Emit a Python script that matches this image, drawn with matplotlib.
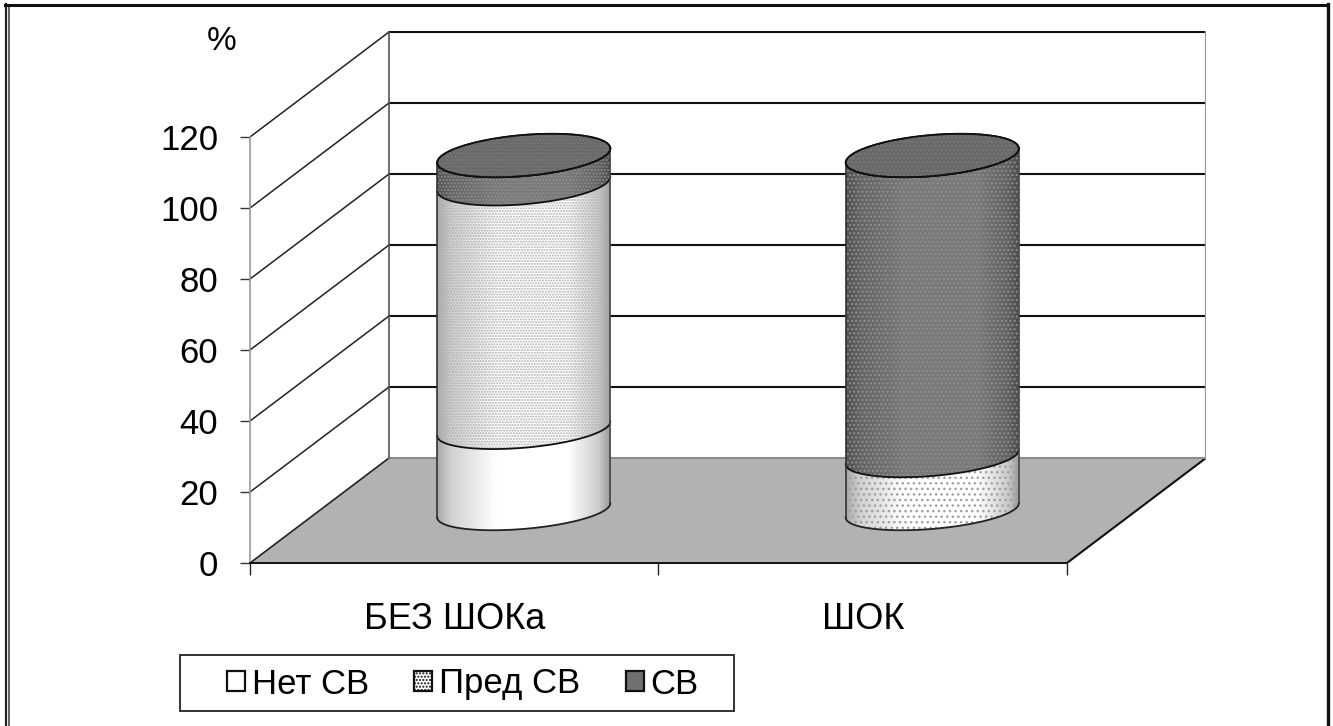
import numpy as np
import matplotlib
matplotlib.use("Agg")
import matplotlib.pyplot as plt
from matplotlib.lines import Line2D
from matplotlib.patches import Patch, PathPatch, Polygon, Rectangle
from matplotlib.path import Path

plt.rcParams["font.family"] = ["Liberation Sans", "DejaVu Sans"]

# data
categories = ["БЕЗ ШОКа", "ШОК"]
series_names = ["Нет СВ", "Пред СВ", "СВ"]
net_sv = [23, 0]
pred_sv = [69, 15]
sv = [8, 85]
y_ticks = [0, 20, 40, 60, 80, 100, 120]

# 3d look, in data units
DEPTH_X = 0.3403
DEPTH_Y = 29.58
RAD_X = 0.2118
TILT = 2.0

# look of each series: base gray, dot colour, hatch
styles = [
    (1.00, None, None),
    (1.00, "#b0b0b0", "......"),
    (0.48, "#8e8e8e", "....."),
]
# the dots are coarser on the second cylinder
styles2 = [
    (1.00, None, None),
    (1.00, "#a0a0a0", "..."),
    (0.48, "#8e8e8e", "...."),
]

# shading across the cylinder, left to right
shade_x = np.linspace(0, 1, 200)
shade = np.interp(shade_x, [0, 0.08, 0.35, 0.75, 0.93, 1], [0.66, 0.82, 1, 1, 0.8, 0.6])


def rad_y(v):
    return 5.1 + 0.006 * v


def front_arc(cx, cy, reverse=False):
    t = np.linspace(np.pi, 2 * np.pi, 80)
    if reverse:
        t = t[::-1]
    return np.column_stack([cx + RAD_X * np.cos(t), cy + TILT * np.cos(t) + rad_y(cy) * np.sin(t)])


def cylinder_part(ax, cx, y0, y1, style, top=False):
    base, dot, hatch = style
    low = front_arc(cx, y0)
    up = front_arc(cx, y1, reverse=True)
    verts = np.vstack([low, up, low[:1]])
    outline = Path(verts, closed=True)

    # gradient clipped to the side of the cylinder
    clip = PathPatch(outline, fc="none", ec="none", transform=ax.transData)
    ax.add_patch(clip)
    img = np.clip(shade * base, 0, 1)[None, :]
    im = ax.imshow(img, cmap="gray", vmin=0, vmax=1, aspect="auto", zorder=3,
                   extent=[cx - RAD_X, cx + RAD_X, y0 - 12, y1 + 12], interpolation="bilinear")
    im.set_clip_path(clip)

    if hatch:
        ax.add_patch(PathPatch(outline, fc="none", ec=dot, hatch=hatch, lw=0, zorder=4))
    ax.plot(up[:, 0], up[:, 1], color="#111111", lw=1.3, zorder=6)
    ax.plot([cx - RAD_X, cx - RAD_X], [y0 + TILT * -1, y1 - TILT], color="#333333", lw=1.2, zorder=6)
    ax.plot([cx + RAD_X, cx + RAD_X], [y0 + TILT, y1 + TILT], color="#444444", lw=1.2, zorder=6)

    if top:
        t = np.linspace(0, 2 * np.pi, 160)
        ell = np.column_stack([cx + RAD_X * np.cos(t), y1 + TILT * np.cos(t) + rad_y(y1) * np.sin(t)])
        ax.add_patch(Polygon(ell, fc=str(base * 0.86), ec="#111111", lw=1.3, zorder=7))
        if hatch:
            ax.add_patch(Polygon(ell, fc="none", ec="#787878", hatch=hatch, lw=0, zorder=8))
            ax.plot(ell[:, 0], ell[:, 1], color="#111111", lw=1.2, zorder=9)


fig = plt.figure(figsize=(13.33, 7.26), dpi=100)
ax = fig.add_axes([250 / 1333, (726 - 563) / 726, 956 / 1333, 532.5 / 726])
ax.set_facecolor("none")

# floor
ax.add_patch(Polygon([[0, 0], [DEPTH_X, DEPTH_Y], [2 + DEPTH_X, DEPTH_Y], [2, 0]],
                     fc="#b2b2b2", ec="none", zorder=1))
ax.plot([0, DEPTH_X], [0, DEPTH_Y], color="#222222", lw=1.2, zorder=2)
ax.plot([2, 2 + DEPTH_X], [0, DEPTH_Y], color="#111111", lw=1.5, zorder=2)
ax.plot([DEPTH_X, 2 + DEPTH_X], [DEPTH_Y, DEPTH_Y], color="#8c8c8c", lw=1.5, zorder=2)

# walls and grid
for v in y_ticks[1:]:
    ax.plot([0, DEPTH_X], [v, v + DEPTH_Y], color="#222222", lw=1.1, zorder=2)
    ax.plot([DEPTH_X, 2 + DEPTH_X], [v + DEPTH_Y, v + DEPTH_Y], color="#111111", lw=1.5, zorder=2)
top_y = y_ticks[-1] + DEPTH_Y
ax.plot([DEPTH_X, DEPTH_X], [DEPTH_Y, top_y], color="#555555", lw=1.2, zorder=2)
ax.plot([2 + DEPTH_X, 2 + DEPTH_X], [DEPTH_Y, top_y], color="#999999", lw=1.6, zorder=2)

# cylinders
for i in range(len(categories)):
    cx = i + 0.5 + DEPTH_X / 2
    st = styles if i == 0 else styles2
    bottom = DEPTH_Y / 2
    vals = [net_sv[i], pred_sv[i], sv[i]]
    last = max(k for k, v in enumerate(vals) if v > 0)
    for k, v in enumerate(vals):
        if v == 0:
            continue
        cylinder_part(ax, cx, bottom, bottom + v, st[k], top=(k == last))
        if bottom == DEPTH_Y / 2:
            # bottom rim
            rim = front_arc(cx, bottom)
            ax.plot(rim[:, 0], rim[:, 1], color="#222222", lw=1.3, zorder=6)
        bottom += v

# axes
ax.set_xlim(0, 2 + DEPTH_X)
ax.set_ylim(0, 150)
for side in ["top", "right"]:
    ax.spines[side].set_visible(False)
ax.spines["left"].set_bounds(0, y_ticks[-1])
ax.spines["left"].set_color("#999999")
ax.spines["left"].set_linewidth(1.2)
ax.spines["bottom"].set_bounds(0, 2)
ax.spines["bottom"].set_color("#111111")
ax.spines["bottom"].set_linewidth(1.4)

ax.set_yticks(y_ticks)
ax.tick_params(axis="y", labelsize=25, length=7, width=1, color="#333333", pad=16)
ax.set_xticks([0, 1, 2])
ax.set_xticklabels([])
ax.set_xticks([0.5, 1.5], labels=categories, minor=True)
ax.tick_params(axis="x", which="major", length=8.5, width=1, color="#222222")
ax.tick_params(axis="x", which="minor", length=0, labelsize=26, pad=28)
ax.patch.set_visible(False)

fig.text(222 / 1333, 1 - 41 / 726, "%", fontsize=24, ha="center", va="center")

# legend, its box is drawn apart since the padding is wider at the sides
fig.add_artist(Rectangle((180 / 1333, 1 - 711 / 726), 554 / 1333, 56 / 726, fc="white",
                         ec="#222222", lw=1.3, transform=fig.transFigure))
handles = [
    Patch(fc="white", ec="#111111", lw=1.6),
    Patch(fc="white", ec="#111111", lw=1.6, hatch="....."),
    Patch(fc="#707070", ec="#111111", lw=1.6),
]
leg = fig.legend(handles, series_names, loc="center", ncol=3, fontsize=25, frameon=False,
                 bbox_to_anchor=(463 / 1333, 1 - 684 / 726), handlelength=0.52, handleheight=0.52,
                 handletextpad=0.2, columnspacing=1.3, borderpad=0, borderaxespad=0)

# frame of the picture
for xs, ys, lw, col in [
    ([5.5, 5.5], [4, 726], 1.6, "#222222"),
    ([8.5, 8.5], [6, 726], 1.2, "#444444"),
    ([5, 1328], [4.5, 4.5], 2.2, "#111111"),
    ([1327.5, 1327.5], [4, 726], 2.4, "#111111"),
]:
    fig.add_artist(Line2D(np.array(xs) / 1333, 1 - np.array(ys) / 726, color=col, lw=lw,
                          transform=fig.transFigure))

fig.savefig("out.png", dpi=100)
